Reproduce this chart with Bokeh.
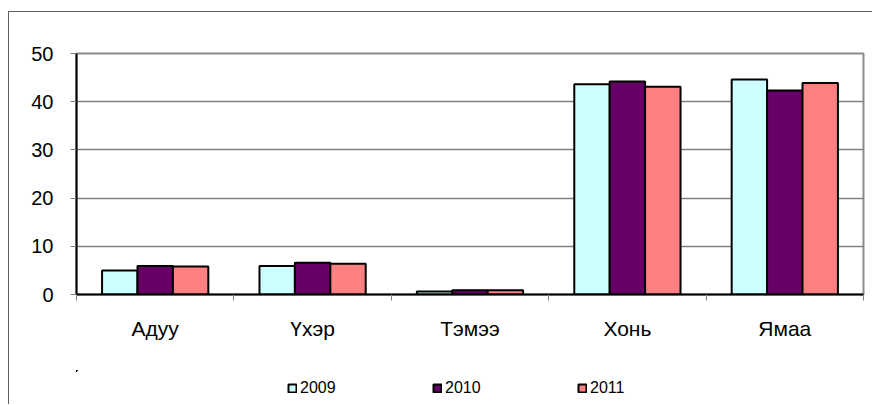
from bokeh.plotting import figure
from bokeh.models import ColumnDataSource, FixedTicker, Legend, LegendItem, Spacer
from bokeh.layouts import row, column
from bokeh.embed import file_html
from bokeh.resources import INLINE

categories = ["Адуу", "Үхэр", "Тэмээ", "Хонь", "Ямаа"]
years = ["2009", "2010", "2011"]
v2009 = [5.0, 5.9, 0.6, 43.6, 44.6]
v2010 = [5.9, 6.6, 0.9, 44.2, 42.3]
v2011 = [5.8, 6.4, 0.9, 43.1, 43.9]
colors = ["#CCFFFF", "#660066", "#FF8080"]
y_ticks = [0, 10, 20, 30, 40, 50]

FONT = "Liberation Sans"
FRAME = "1px solid #606060"

p = figure(width=864, height=359, output_backend="svg", toolbar_location=None,
           x_range=(0, len(categories)), y_range=(0, 50),
           min_border_left=67, min_border_right=10, min_border_top=41,
           min_border_bottom=77)
p.styles = {"border-left": FRAME, "border-top": FRAME}
p.background_fill_color = "white"
p.border_fill_color = "white"
p.outline_line_color = "#8c8c8c"
p.outline_line_width = 2

centers = [i + 0.5 for i in range(len(categories))]
bw = 0.225
sources = []
for k, (vals, col) in enumerate(zip([v2009, v2010, v2011], colors)):
    xs = [c + (k - 1) * bw for c in centers]
    src = ColumnDataSource(dict(x=xs, top=vals))
    sources.append(src)
    p.vbar(x="x", top="top", width=bw, bottom=0, source=src,
           fill_color=col, line_color="black", line_width=2)

# y axis
p.yaxis.ticker = FixedTicker(ticks=y_ticks)
p.yaxis.axis_line_color = "black"
p.yaxis.axis_line_width = 2
p.yaxis.major_tick_out = 6
p.yaxis.major_tick_in = 0
p.yaxis.major_tick_line_color = "#808080"
p.yaxis.minor_tick_line_color = None
p.yaxis.major_label_text_font = FONT
p.yaxis.major_label_text_font_size = "20px"
p.yaxis.major_label_text_color = "black"
p.yaxis.major_label_standoff = 17

# x axis: labels at category centres, tick marks at category boundaries
p.xaxis.ticker = FixedTicker(ticks=centers, minor_ticks=list(range(len(categories) + 1)))
p.xaxis.major_label_overrides = {c: name for c, name in zip(centers, categories)}
p.xaxis.axis_line_color = "black"
p.xaxis.axis_line_width = 2
p.xaxis.major_tick_line_color = None
p.xaxis.major_tick_out = 0
p.xaxis.major_tick_in = 0
p.xaxis.minor_tick_line_color = "#808080"
p.xaxis.minor_tick_out = 6
p.xaxis.minor_tick_in = 0
p.xaxis.major_label_text_font = FONT
p.xaxis.major_label_text_font_size = "21px"
p.xaxis.major_label_text_color = "black"
p.xaxis.major_label_standoff = 16

p.xgrid.grid_line_color = None
p.ygrid.ticker = FixedTicker(ticks=y_ticks)
p.ygrid.grid_line_color = "#808080"
p.ygrid.grid_line_width = 1.3

# legend strip under the chart (same series sources, bars kept out of its view)
lg = figure(width=864, height=34, output_backend="svg", toolbar_location=None,
            x_axis_location=None, y_axis_location=None, min_border=0,
            x_range=(1000, 1005), y_range=(-2000, -1990))
lg.styles = {"border-left": FRAME}
lg.outline_line_color = None
lg.background_fill_color = "white"
lg.xgrid.grid_line_color = None
lg.ygrid.grid_line_color = None
swatches = []
for src, col in zip(sources, colors):
    swatches.append(lg.vbar(x="x", top="top", width=bw, bottom=0, source=src,
                            fill_color=col, line_color="black", line_width=2))
legend = Legend(items=[LegendItem(label=y, renderers=[r]) for y, r in zip(years, swatches)],
                orientation="horizontal", location=(211, 7), padding=0, margin=0,
                spacing=71, glyph_width=10, glyph_height=10, label_height=10,
                label_width=61, label_standoff=3, border_line_color=None,
                background_fill_alpha=0,
                label_text_font=FONT, label_text_font_size="16px",
                label_text_color="black")
lg.add_layout(legend, "center")

layout = row(Spacer(width=8, height=405),
             column(Spacer(width=864, height=11), p, lg))

open("out.html", "w").write(file_html(layout, INLINE))
